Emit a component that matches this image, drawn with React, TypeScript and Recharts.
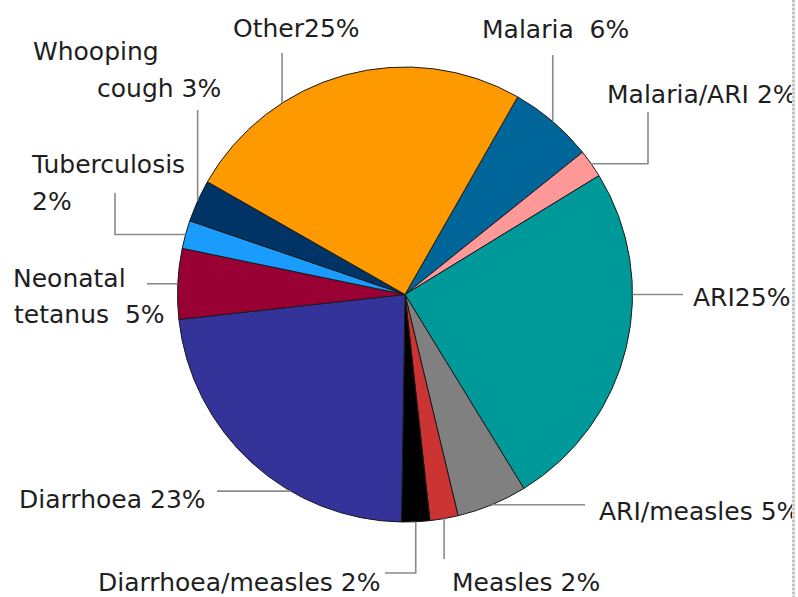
import { Cell, Pie, PieChart } from 'recharts';

// causes of death, clockwise from the Malaria slice
const causes = [
  'Malaria',
  'Malaria/ARI',
  'ARI',
  'ARI/measles',
  'Measles',
  'Diarrhoea/measles',
  'Diarrhoea',
  'Neonatal tetanus',
  'Tuberculosis',
  'Whooping cough',
  'Other',
];
const shares = [6, 2, 25, 5, 2, 2, 23, 5, 2, 3, 25];
const labelTexts = [
  ['Malaria  6%'],
  ['Malaria/ARI 2%'],
  ['ARI25%'],
  ['ARI/measles 5%'],
  ['Measles 2%'],
  ['Diarrhoea/measles 2%'],
  ['Diarrhoea 23%'],
  ['Neonatal', 'tetanus  5%'],
  ['Tuberculosis', '2%'],
  ['Whooping', 'cough 3%'],
  ['Other25%'],
];
const colors = [
  '#006699',
  '#ff9999',
  '#009999',
  '#808080',
  '#cc3333',
  '#000000',
  '#333399',
  '#990033',
  '#1a9cff',
  '#003366',
  '#ff9900',
];

const data = causes.map((name, i) => ({ name, value: shares[i] }));

const CX = 405;
const CY = 294.5;
const R = 227.5;
const START = 60.3;

// leader line and text placement, offsets from the pie centre
type Seg = ['h' | 'v', number];
const layout: { shift: number; path: Seg[]; text: [number, number][] }[] = [
  { shift: 0, path: [['v', -239.5]], text: [[77, -256.5]] },
  { shift: 0, path: [['h', 243], ['v', -182.5]], text: [[202, -191.5]] },
  { shift: -13.5, path: [['h', 278]], text: [[288, 11.5]] },
  { shift: 0, path: [['h', 180]], text: [[194, 225.5]] },
  { shift: 0, path: [['v', 264.5]], text: [[47, 296.5]] },
  { shift: 0, path: [['v', 278.5], ['h', -20]], text: [[-307, 296.5]] },
  { shift: -12.1, path: [['h', -188]], text: [[-386, 213.5]] },
  { shift: 0, path: [['h', -258]], text: [[-392, -7.5], [-391, 28.5]] },
  { shift: 0, path: [['h', -290], ['v', -101.5]], text: [[-373, -121.5], [-373, -84.5]] },
  { shift: 0, path: [['v', -184.5]], text: [[-372, -234.5], [-308, -197.5]] },
  { shift: -17.4, path: [['v', -241.5]], text: [[-172, -257.5]] },
];

const RAD = Math.PI / 180;

function renderLabel(props: any) {
  const { cx, cy, midAngle, outerRadius, index } = props;
  const l = layout[index];
  const a = (90 - midAngle + l.shift) * RAD;
  let x = cx + outerRadius * Math.sin(a);
  let y = cy - outerRadius * Math.cos(a);
  const pts = [`${x},${y}`];
  l.path.forEach(([axis, v]) => {
    if (axis === 'h') x = cx + v;
    else y = cy + v;
    pts.push(`${x},${y}`);
  });
  return (
    <g key={`lbl-${index}`}>
      <polyline points={pts.join(' ')} fill="none" stroke="#8a8a8a" strokeWidth={1.6} />
      {labelTexts[index].map((t, j) => (
        <text
          key={j}
          x={cx + l.text[j][0]}
          y={cy + l.text[j][1]}
          fill="#1e1e1e"
          fontSize={25}
          fontFamily="DejaVu Sans"
          style={{ whiteSpace: 'pre' }}
          xmlSpace="preserve"
        >
          {t}
        </text>
      ))}
    </g>
  );
}

export default function App() {
  return (
    <div style={{ position: 'absolute', left: 0, top: 0, width: 798, height: 597, background: '#fff' }}>
      <div style={{ position: 'absolute', left: 0, top: 0, width: 792, height: 597, overflow: 'hidden' }}>
        <PieChart width={792} height={597} margin={{ top: 0, right: 0, bottom: 0, left: 0 }}>
          <Pie
            data={data}
            dataKey="value"
            nameKey="name"
            cx={CX}
            cy={CY}
            outerRadius={R}
            startAngle={START}
            endAngle={START - 360}
            stroke="#1a1a1a"
            strokeWidth={1}
            label={renderLabel}
            labelLine={false}
            isAnimationActive={false}
          >
            {data.map((d, i) => (
              <Cell key={d.name} fill={colors[i]} />
            ))}
          </Pie>
        </PieChart>
      </div>
      <div
        style={{
          position: 'absolute',
          left: 792,
          top: 0,
          width: 3,
          height: 597,
          background: 'repeating-linear-gradient(to bottom, #c4c4c4 0 2px, #e4e4e4 2px 4px)',
        }}
      />
    </div>
  );
}
